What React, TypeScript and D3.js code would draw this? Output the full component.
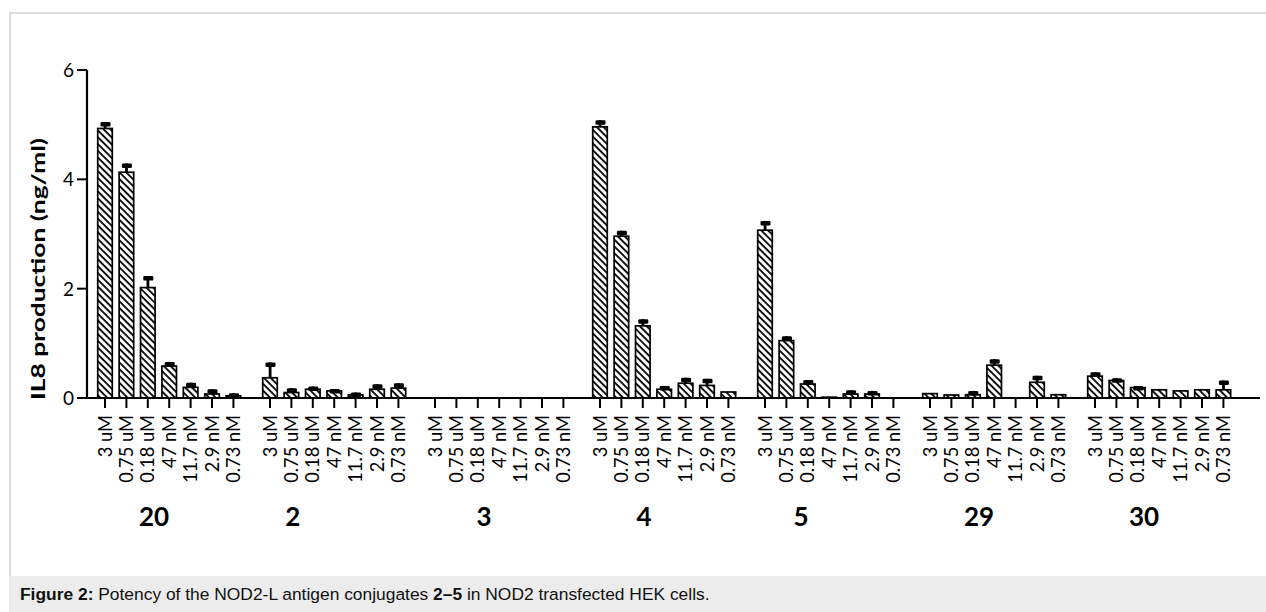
import React from "react";
import * as d3 from "d3";

const groups = ["20", "2", "3", "4", "5", "29", "30"];
const concentrations = ["3 uM", "0.75 uM", "0.18 uM", "47 nM", "11.7 nM", "2.9 nM", "0.73 nM"];

const means20 = [4.93, 4.13, 2.02, 0.585, 0.195, 0.073, 0.04];
const sd20 = [0.12, 0.16, 0.21, 0.075, 0.085, 0.087, 0.045];
const means2 = [0.37, 0.1, 0.16, 0.13, 0.06, 0.16, 0.18];
const sd2 = [0.28, 0.08, 0.05, 0.035, 0.04, 0.09, 0.09];
const means3 = [0, 0, 0, 0, 0, 0, 0];
const sd3 = [0, 0, 0, 0, 0, 0, 0];
const means4 = [4.96, 2.96, 1.32, 0.16, 0.27, 0.23, 0.11];
const sd4 = [0.12, 0.1, 0.12, 0.06, 0.1, 0.12, 0];
const means5 = [3.07, 1.05, 0.256, 0.015, 0.073, 0.073, 0];
const sd5 = [0.17, 0.08, 0.074, 0, 0.067, 0.057, 0];
const means29 = [0.08, 0.055, 0.06, 0.6, 0, 0.287, 0.06];
const sd29 = [0, 0, 0.07, 0.11, 0, 0.12, 0];
const means30 = [0.4, 0.32, 0.19, 0.15, 0.13, 0.15, 0.15];
const sd30 = [0.07, 0.04, 0.03, 0, 0, 0, 0.17];

const allMeans = [means20, means2, means3, means4, means5, means29, means30];
const allSd = [sd20, sd2, sd3, sd4, sd5, sd29, sd30];

const yTicks = [0, 2, 4, 6];
// group label anchor, in bar-index units within each group
const groupLabelAnchor = [2.29, 1.07, 2.29, 2.06, 1.68, 2.29, 2.29];

const W = 1266;
const H = 612;

export default function App() {
  const y = d3.scaleLinear().domain([0, 6]).range([398, 70]);
  const xGroup = d3.scaleBand<string>().domain(groups).range([94.3, 1234.1]).paddingInner(0.092).paddingOuter(0);
  const xBar = d3
    .scaleBand<string>()
    .domain(concentrations)
    .range([0, xGroup.bandwidth()])
    .paddingInner(0.32)
    .paddingOuter(0.16);
  const bw = xBar.bandwidth();
  const step = xBar.step();
  const axisX = 87;
  const axisY = y(0);
  const font = "Lato, 'Open Sans', sans-serif";

  return (
    <svg
      width={W}
      height={H}
      style={{ position: "absolute", left: 0, top: 0, background: "#fff" }}
      xmlns="http://www.w3.org/2000/svg"
    >
      <defs>
        <pattern id="hatch" patternUnits="userSpaceOnUse" width={4.8} height={4.8} patternTransform="rotate(-45)">
          <rect width={4.8} height={4.8} fill="#fff" />
          <line x1={1} y1={0} x2={1} y2={4.8} stroke="#000" strokeWidth={1.8} />
        </pattern>
      </defs>
      <rect x={0} y={0} width={W} height={H} fill="#fff" />
      {/* frame */}
      <line x1={9} y1={13} x2={W} y2={13} stroke="#dcdcdc" strokeWidth={2} />
      <line x1={10} y1={12} x2={10} y2={576} stroke="#dcdcdc" strokeWidth={2} />
      <rect x={9} y={576} width={W - 9} height={H - 576} fill="#ececec" />
      <text x={20} y={600} fontFamily="'Liberation Sans', Arial, sans-serif" fontSize={17.4} fill="#111">
        <tspan fontWeight="bold">Figure 2:</tspan>
        <tspan> Potency of the NOD2-L antigen conjugates </tspan>
        <tspan fontWeight="bold">2–5</tspan>
        <tspan> in NOD2 transfected HEK cells.</tspan>
      </text>

      {/* bars */}
      {groups.map((g, gi) => (
        <g key={g}>
          {concentrations.map((c, ci) => {
            const m = allMeans[gi][ci];
            const s = allSd[gi][ci];
            const x0 = (xGroup(g) as number) + (xBar(c) as number);
            const cx = x0 + bw / 2;
            return (
              <g key={c}>
                {m > 0 && (
                  <rect
                    x={x0}
                    y={y(m)}
                    width={bw}
                    height={axisY - y(m)}
                    fill="url(#hatch)"
                    stroke="#000"
                    strokeWidth={1.7}
                  />
                )}
                {s > 0 && (
                  <g>
                    <rect x={cx - 1.3} y={y(m + s)} width={2.8} height={y(m) - y(m + s)} fill="#000" />
                    <rect x={cx - 4.5} y={y(m + s)} width={10} height={4.5} rx={1.2} fill="#000" />
                  </g>
                )}
                <line x1={cx} x2={cx} y1={axisY} y2={axisY + 10} stroke="#000" strokeWidth={2} />
                <text
                  transform={`translate(${cx},${axisY + 17}) rotate(-90)`}
                  textAnchor="end"
                  dy="0.36em"
                  fontFamily={font}
                  fontSize={18.3}
                  fill="#000"
                >
                  {c}
                </text>
              </g>
            );
          })}
          <text
            x={(xGroup(g) as number) + step / 2 + groupLabelAnchor[gi] * step}
            y={526}
            textAnchor="middle"
            fontFamily={font}
            fontWeight="bold"
            fontSize={26}
            fill="#000"
          >
            {g}
          </text>
        </g>
      ))}

      {/* axes */}
      <line x1={axisX} x2={1260} y1={axisY} y2={axisY} stroke="#000" strokeWidth={2} />
      <line x1={axisX} x2={axisX} y1={y(6)} y2={axisY} stroke="#000" strokeWidth={2.2} />
      {yTicks.map((t) => (
        <g key={t}>
          <line x1={axisX - 10} x2={axisX} y1={y(t)} y2={y(t)} stroke="#000" strokeWidth={2} />
          <text x={74} y={y(t)} dy="0.36em" textAnchor="end" fontFamily={font} fontSize={19} fill="#000">
            {t}
          </text>
        </g>
      ))}
      <text
        transform={`translate(45,${269}) rotate(-90)`}
        textAnchor="middle"
        fontFamily={font}
        fontWeight="bold"
        fontSize={19}
        textLength={262}
        lengthAdjust="spacingAndGlyphs"
        fill="#000"
      >
        IL8 production (ng/ml)
      </text>
    </svg>
  );
}
